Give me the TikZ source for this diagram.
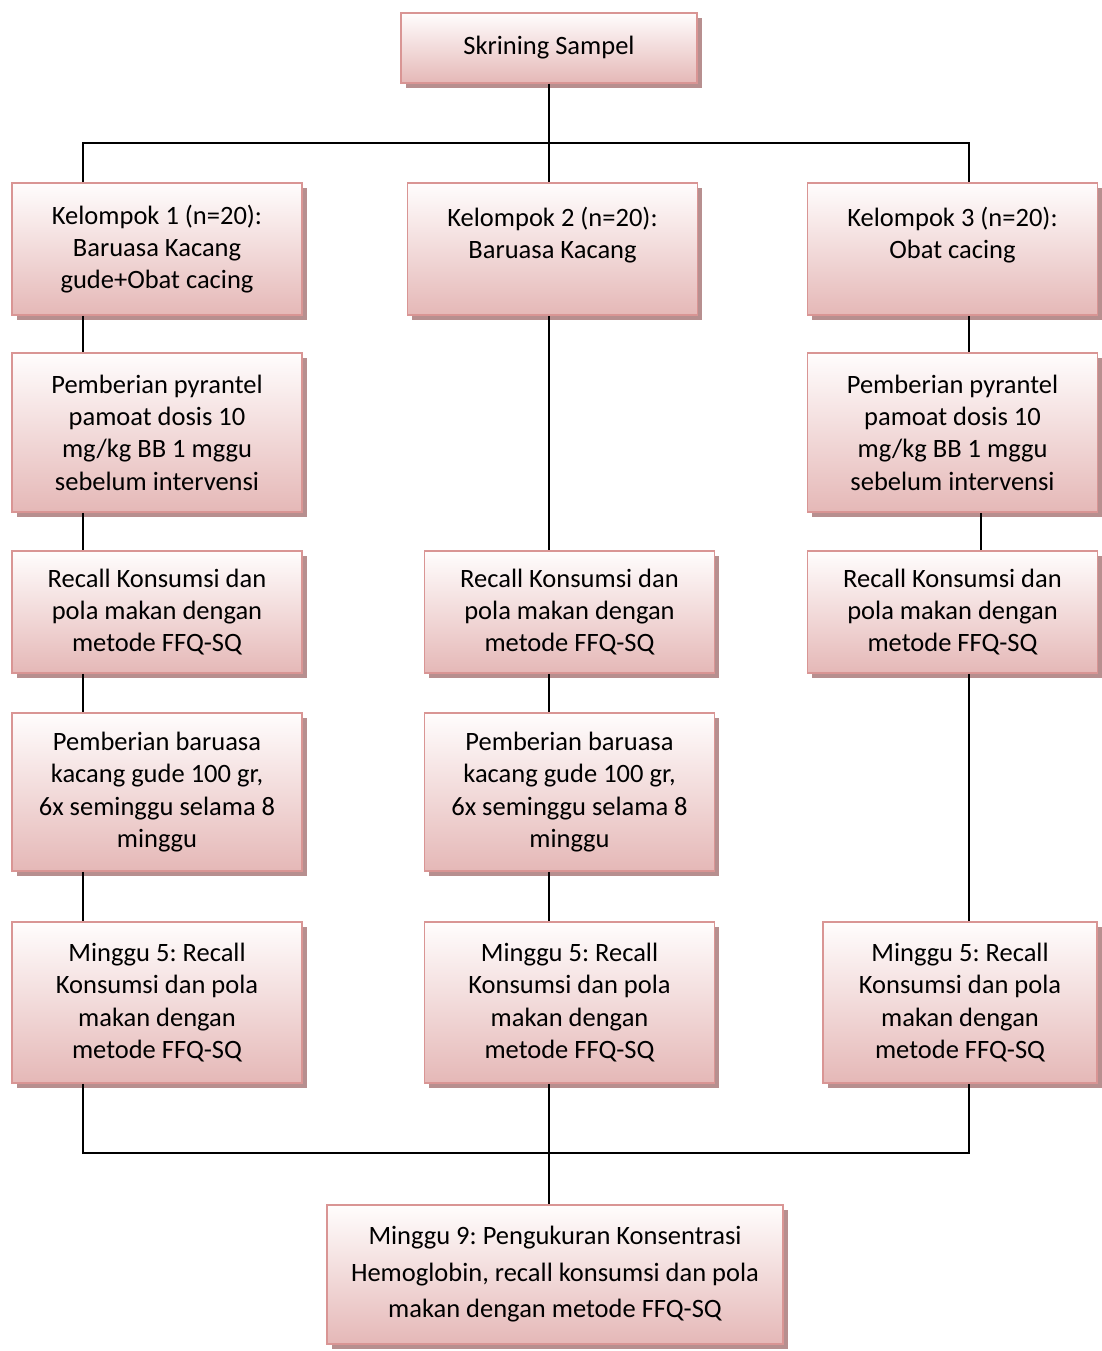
\documentclass[tikz,border=0pt]{standalone}
\usepackage{fontspec}
\setmainfont{Carlito}
\frenchspacing
\usepackage{tikz}
\usetikzlibrary{calc, shadows, positioning}

\definecolor{boxtop}{RGB}{255,253,253}
\definecolor{boxmid}{RGB}{245,224,224}
\definecolor{boxbot}{RGB}{229,184,183}
\definecolor{boxline}{RGB}{217,149,148}
\definecolor{boxshade}{RGB}{183,143,143}

\tikzset{
    stepbox/.style={draw=boxline, line width=1.5pt, top color=boxtop, middle color=boxmid,
        bottom color=boxbot, align=center, inner sep=0pt, minimum width=290pt,
        font=\fontsize{26.5}{32.3}\selectfont,
        drop shadow={shadow xshift=4.5pt, shadow yshift=-5pt, fill=boxshade, opacity=1}},
    link/.style={line width=1.4pt, black}
}

\begin{document}
\begin{tikzpicture}[x=1pt, y=-1pt]
            \useasboundingbox (0, 0) rectangle (1101, 1351);
            % lines run at these x positions
            \coordinate (colA) at (83, 143);
            \coordinate (colB) at (549, 143);
            \coordinate (colC) at (969, 143);
            \coordinate (colD) at (981, 143);
            \coordinate (busR) at (969, 1153);

            \node[stepbox, minimum width=296pt, minimum height=70pt] (skr) at (549, 48) {Skrining Sampel};

            \node[stepbox, minimum height=132pt] (k1) at (157, 249) {Kelompok 1 (n=20):\\ Baruasa Kacang\\ gude+Obat cacing};
            \node[stepbox, minimum height=132pt] (k2) at (552.5, 249) {Kelompok 2 (n=20):\\ Baruasa Kacang\\ \mbox{}};
            \node[stepbox, minimum height=132pt] (k3) at (952.5, 249) {Kelompok 3 (n=20):\\ Obat cacing\\ \mbox{}};

            \node[stepbox, minimum height=159pt] (p1) at (157, 432.5) {Pemberian pyrantel\\ pamoat dosis 10\\ mg/kg BB 1 mggu\\ sebelum intervensi};
            \node[stepbox, minimum height=159pt] (p3) at (952.5, 432.5) {Pemberian pyrantel\\ pamoat dosis 10\\ mg/kg BB 1 mggu\\ sebelum intervensi};

            \node[stepbox, minimum height=122pt] (r1) at (157, 612) {Recall Konsumsi dan\\ pola makan dengan\\ metode FFQ-SQ};
            \node[stepbox, minimum height=122pt] (r2) at (569.5, 612) {Recall Konsumsi dan\\ pola makan dengan\\ metode FFQ-SQ};
            \node[stepbox, minimum height=122pt] (r3) at (952.5, 612) {Recall Konsumsi dan\\ pola makan dengan\\ metode FFQ-SQ};

            \node[stepbox, minimum height=158pt] (g1) at (157, 792) {Pemberian baruasa\\ kacang gude 100 gr,\\ 6x seminggu selama 8\\ minggu};
            \node[stepbox, minimum height=158pt] (g2) at (569.5, 792) {Pemberian baruasa\\ kacang gude 100 gr,\\ 6x seminggu selama 8\\ minggu};

            \node[stepbox, minimum height=161pt] (m1) at (157, 1002.5) {Minggu 5: Recall\\ Konsumsi dan pola\\ makan dengan\\ metode FFQ-SQ};
            \node[stepbox, minimum height=161pt] (m2) at (569.5, 1002.5) {Minggu 5: Recall\\ Konsumsi dan pola\\ makan dengan\\ metode FFQ-SQ};
            \node[stepbox, minimum width=274pt, minimum height=161pt] (m3) at (960, 1002.5) {Minggu 5: Recall\\ Konsumsi dan pola\\ makan dengan\\ metode FFQ-SQ};

            \node[stepbox, minimum width=456pt, minimum height=139pt, font=\fontsize{26.5}{36.5}\selectfont] (fin) at (555, 1274.5) {Minggu 9: Pengukuran Konsentrasi\\ Hemoglobin, recall konsumsi dan pola\\ makan dengan metode FFQ-SQ};

            % top split
            \draw[link] (skr.south) -- (skr.south |- k2.north);
            \draw[link] (k1.north -| colA) |- (colC) -- (k3.north -| colC);

            % the three columns
            \foreach \a/\b in {k1/p1, p1/r1, r1/g1, g1/m1}
                \draw[link] (\a.south -| colA) -- (\b.north -| colA);
            \foreach \a/\b in {k2/r2, r2/g2, g2/m2}
                \draw[link] (\a.south -| colB) -- (\b.north -| colB);
            \draw[link] (k3.south -| colC) -- (p3.north -| colC);
            \draw[link] (p3.south -| colD) -- (r3.north -| colD);
            \draw[link] (r3.south -| colC) -- (m3.north -| colC);

            % bottom join
            \draw[link] (m1.south -| colA) |- (busR) -- (m3.south -| busR);
            \draw[link] (m2.south -| colB) -- (fin.north -| colB);
        \end{tikzpicture}
\end{document}
